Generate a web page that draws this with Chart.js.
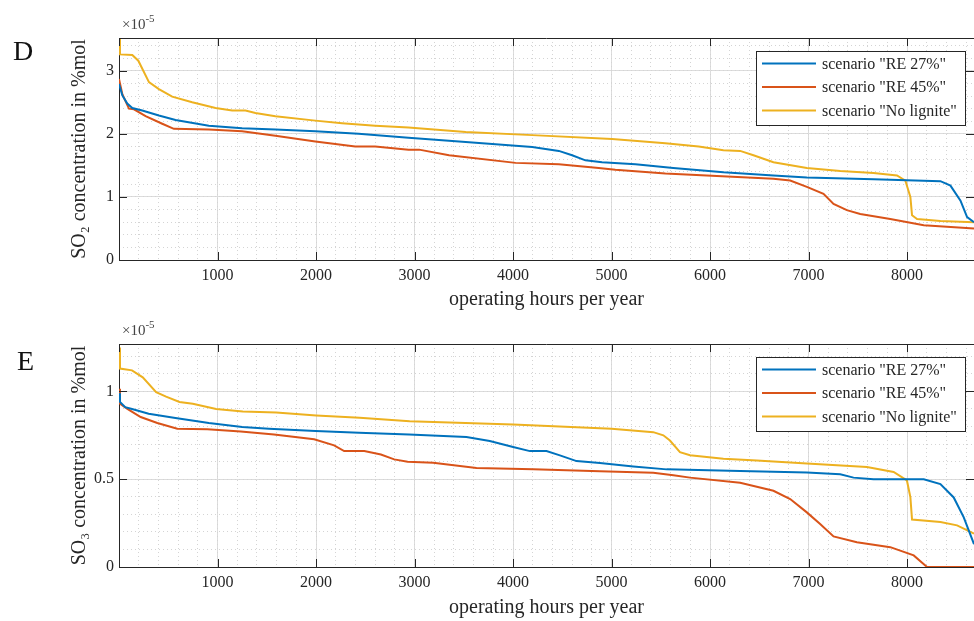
<!DOCTYPE html>
<html>
<head>
<meta charset="utf-8">
<script src="https://cdn.jsdelivr.net/npm/chart.js@4/dist/chart.umd.min.js"></script>
<style>
  html, body { margin: 0; padding: 0; background: #fff; overflow: hidden; }
  #wrap { position: relative; width: 974px; height: 621px; }
  canvas { position: absolute; left: 0; }
  #chartD { top: 0; }
  #chartE { top: 310px; }
</style>
</head>
<body>
<div id="wrap">
  <canvas id="chartD" width="974" height="310"></canvas>
  <canvas id="chartE" width="974" height="311"></canvas>
</div>
<script>
// Series labels
const seriesLabels = ['scenario "RE 27%"', 'scenario "RE 45%"', 'scenario "No lignite"'];
const seriesColors = ['#0072BD', '#D95319', '#EDB120'];

// x axis ticks (hours)
const hourTicks = [0, 1000, 2000, 3000, 4000, 5000, 6000, 7000, 8000];
const hoursMax = 8680;
const xTitle = 'operating hours per year';

// Panel D - SO2 (values in units of 1e-5 %mol)
const so2Re27Hours = [0, 34, 84, 135, 236, 405, 574, 912, 1250, 1588, 1993, 2432, 2939, 3520, 4195, 4465, 4600, 4735, 4904, 5243, 5627, 6136, 6644, 6983, 7660, 8339, 8441, 8543, 8610, 8680];
const so2Re27Values = [2.79, 2.61, 2.48, 2.41, 2.37, 2.29, 2.22, 2.13, 2.09, 2.07, 2.04, 2.00, 1.94, 1.87, 1.79, 1.73, 1.66, 1.58, 1.55, 1.52, 1.46, 1.39, 1.34, 1.31, 1.28, 1.25, 1.18, 0.94, 0.68, 0.60];

const so2Re45Hours = [0, 34, 101, 152, 270, 439, 557, 912, 1250, 1588, 1993, 2398, 2601, 2939, 3047, 3351, 4026, 4465, 4870, 5039, 5547, 5966, 6644, 6814, 6983, 7152, 7254, 7389, 7525, 7830, 8170, 8680];
const so2Re45Values = [2.87, 2.63, 2.40, 2.39, 2.28, 2.16, 2.08, 2.07, 2.04, 1.97, 1.88, 1.80, 1.80, 1.75, 1.75, 1.66, 1.54, 1.52, 1.46, 1.43, 1.37, 1.34, 1.29, 1.26, 1.16, 1.05, 0.89, 0.79, 0.73, 0.65, 0.55, 0.50];

const so2NoLigHours = [0, 10, 135, 196, 304, 405, 540, 743, 980, 1149, 1284, 1385, 1588, 1993, 2264, 2601, 2939, 3520, 4195, 5006, 5547, 5885, 6136, 6306, 6441, 6644, 6983, 7322, 7660, 7898, 7983, 8034, 8051, 8102, 8339, 8680];
const so2NoLigValues = [3.51, 3.26, 3.25, 3.16, 2.82, 2.71, 2.59, 2.50, 2.41, 2.37, 2.37, 2.33, 2.28, 2.21, 2.17, 2.13, 2.10, 2.03, 1.98, 1.92, 1.85, 1.80, 1.74, 1.73, 1.66, 1.55, 1.46, 1.41, 1.38, 1.34, 1.26, 1.00, 0.71, 0.65, 0.62, 0.60];

// Panel E - SO3 (values in units of 1e-5 %mol)
const so3Re27Hours = [0, 10, 63, 132, 301, 573, 912, 1251, 1522, 1996, 2437, 2945, 3527, 3764, 4001, 4171, 4340, 4476, 4645, 4882, 5221, 5560, 6306, 6983, 7322, 7457, 7660, 8170, 8339, 8474, 8576, 8680];
const so3Re27Values = [0.99, 0.94, 0.91, 0.90, 0.873, 0.848, 0.82, 0.797, 0.788, 0.774, 0.765, 0.754, 0.74, 0.717, 0.683, 0.66, 0.66, 0.636, 0.603, 0.592, 0.573, 0.556, 0.547, 0.538, 0.528, 0.509, 0.50, 0.50, 0.472, 0.396, 0.283, 0.13];

const so3Re45Hours = [0, 10, 85, 220, 389, 592, 897, 1236, 1574, 1981, 2184, 2286, 2490, 2659, 2794, 2930, 3189, 3629, 4205, 4882, 5424, 5628, 5797, 6306, 6644, 6814, 6983, 7118, 7254, 7491, 7830, 8068, 8203, 8680];
const so3Re45Values = [1.015, 0.93, 0.90, 0.854, 0.82, 0.788, 0.784, 0.772, 0.755, 0.727, 0.693, 0.66, 0.66, 0.641, 0.613, 0.60, 0.594, 0.564, 0.556, 0.546, 0.537, 0.522, 0.509, 0.48, 0.434, 0.387, 0.311, 0.245, 0.174, 0.141, 0.113, 0.066, 0, 0];

const so3NoLigHours = [0, 10, 132, 241, 377, 478, 614, 749, 986, 1257, 1596, 2002, 2443, 2951, 4001, 5001, 5424, 5526, 5593, 5695, 5797, 6136, 6475, 6983, 7593, 7864, 7999, 8034, 8051, 8339, 8508, 8680];
const so3NoLigValues = [1.25, 1.13, 1.12, 1.08, 0.996, 0.97, 0.94, 0.93, 0.90, 0.886, 0.88, 0.863, 0.85, 0.83, 0.812, 0.788, 0.768, 0.75, 0.72, 0.654, 0.636, 0.617, 0.607, 0.589, 0.57, 0.541, 0.493, 0.398, 0.27, 0.256, 0.237, 0.19];

const SERIF = '"Liberation Serif", "DejaVu Serif", serif';
const TEXT_COLOR = '#262626';

function toPoints(hours, values) {
    return hours.map((h, i) => ({ x: h, y: values[i] }));
}

// draws box, inward ticks, legend, exponent and panel letter
const decorPlugin = {
    id: 'decor',
    afterDraw(chart, args, opts) {
        const ctx = chart.ctx;
        const area = chart.chartArea;
        const xs = chart.scales.x;
        const ys = chart.scales.y;
        const tickLen = 8;
        ctx.save();

        // top border line
        ctx.strokeStyle = TEXT_COLOR;
        ctx.lineWidth = 1;
        ctx.beginPath();
        ctx.moveTo(area.left, area.top + 0.5);
        ctx.lineTo(area.right, area.top + 0.5);
        ctx.stroke();

        // inward ticks
        ctx.beginPath();
        xs.ticks.forEach(t => {
            const px = Math.round(xs.getPixelForValue(t.value)) + 0.5;
            ctx.moveTo(px, area.bottom);
            ctx.lineTo(px, area.bottom - tickLen);
            ctx.moveTo(px, area.top);
            ctx.lineTo(px, area.top + tickLen);
        });
        ys.ticks.forEach(t => {
            const py = Math.round(ys.getPixelForValue(t.value)) + 0.5;
            ctx.moveTo(area.left, py);
            ctx.lineTo(area.left + tickLen, py);
            ctx.moveTo(area.right, py);
            ctx.lineTo(area.right - tickLen, py);
        });
        ctx.stroke();

        // legend box
        const boxW = 209, boxH = 74;
        const boxL = area.right - 9 - boxW;
        const boxT = area.top + 13;
        ctx.fillStyle = '#ffffff';
        ctx.fillRect(boxL, boxT, boxW, boxH);
        ctx.strokeStyle = TEXT_COLOR;
        ctx.strokeRect(boxL + 0.5, boxT + 0.5, boxW, boxH);
        ctx.font = '16px ' + SERIF;
        ctx.textBaseline = 'middle';
        ctx.textAlign = 'left';
        chart.data.datasets.forEach((ds, i) => {
            const cy = boxT + 12.5 + i * 23.5;
            ctx.strokeStyle = ds.borderColor;
            ctx.lineWidth = 2;
            ctx.beginPath();
            ctx.moveTo(boxL + 6, cy);
            ctx.lineTo(boxL + 60, cy);
            ctx.stroke();
            ctx.fillStyle = TEXT_COLOR;
            ctx.fillText(ds.label, boxL + 66, cy + 1);
        });

        // exponent
        ctx.fillStyle = '#444';
        ctx.textBaseline = 'alphabetic';
        ctx.font = '15px ' + SERIF;
        ctx.fillText('\u00d710', area.left + 3, area.top - 9);
        const w = ctx.measureText('\u00d710').width;
        ctx.font = '11px ' + SERIF;
        ctx.fillText('-5', area.left + 3 + w, area.top - 16);

        // panel letter
        ctx.fillStyle = '#111';
        ctx.font = '28px ' + SERIF;
        ctx.fillText(opts.letter, opts.letterX, 60);

        ctx.restore();
    }
};

function makePanel(canvasId, cfg) {
    const datasets = cfg.series.map((s, i) => ({
        label: seriesLabels[i],
        data: toPoints(s[0], s[1]),
        borderColor: seriesColors[i],
        backgroundColor: seriesColors[i],
        borderWidth: 2,
        pointRadius: 0,
        tension: 0,
        fill: false
    }));

    return new Chart(document.getElementById(canvasId), {
        type: 'line',
        data: { datasets: datasets },
        plugins: [decorPlugin],
        options: {
            responsive: false,
            animation: false,
            devicePixelRatio: 1,
            layout: { padding: { top: cfg.padTop, left: 0, right: 0, bottom: 0 } },
            plugins: {
                legend: { display: false },
                tooltip: { enabled: false },
                decor: { letter: cfg.letter, letterX: cfg.letterX }
            },
            scales: {
                x: {
                    type: 'linear',
                    position: 'bottom',
                    min: 0,
                    max: hoursMax,
                    afterBuildTicks: s => { s.ticks = hourTicks.map(v => ({ value: v })); },
                    ticks: {
                        maxRotation: 0,
                        autoSkip: false,
                        padding: 6,
                        color: TEXT_COLOR,
                        font: { family: SERIF, size: 16 },
                        callback: v => (v === 0 ? '' : String(v))
                    },
                    grid: { color: '#dcdcdc', drawTicks: false },
                    border: { color: TEXT_COLOR, width: 1 },
                    title: {
                        display: true,
                        text: xTitle,
                        color: TEXT_COLOR,
                        font: { family: SERIF, size: 20, lineHeight: 1 },
                        padding: { top: 0, bottom: cfg.xTitlePad }
                    },
                    afterFit: s => { s.height = cfg.axisH; }
                },
                xMinor: {
                    type: 'linear',
                    position: 'bottom',
                    min: 0,
                    max: hoursMax,
                    ticks: { stepSize: 200, includeBounds: false, display: false },
                    grid: { color: '#d4d4d4', drawTicks: false, borderDash: [1, 3] },
                    border: { display: false, dash: [1, 3] },
                    afterFit: s => { s.height = 0; }
                },
                y: {
                    type: 'linear',
                    position: 'left',
                    min: 0,
                    max: cfg.yMax,
                    ticks: {
                        stepSize: cfg.yStep,
                        includeBounds: false,
                        padding: 5,
                        color: TEXT_COLOR,
                        font: { family: SERIF, size: 16 },
                        callback: v => String(Number(v.toFixed(2)))
                    },
                    grid: { color: '#dcdcdc', drawTicks: false },
                    border: { color: TEXT_COLOR, width: 1 },
                    title: {
                        display: true,
                        text: cfg.yTitle,
                        color: TEXT_COLOR,
                        font: { family: SERIF, size: 20, lineHeight: 1 },
                        padding: { top: 70, bottom: 0 }
                    },
                    afterFit: s => { s.width = 119; }
                },
                yMinor: {
                    type: 'linear',
                    position: 'left',
                    min: 0,
                    max: cfg.yMax,
                    ticks: { stepSize: cfg.yMinorStep, includeBounds: false, display: false },
                    grid: { color: '#d4d4d4', drawTicks: false, borderDash: [1, 3] },
                    border: { display: false, dash: [1, 3] },
                    afterFit: s => { s.width = 0; }
                }
            }
        }
    });
}

makePanel('chartD', {
    series: [[so2Re27Hours, so2Re27Values], [so2Re45Hours, so2Re45Values], [so2NoLigHours, so2NoLigValues]],
    yMax: 3.52, yStep: 1, yMinorStep: 0.2,
    yTitle: 'SO\u2082 concentration in %mol',
    padTop: 38, axisH: 50, xTitlePad: 0,
    letter: 'D', letterX: 13
});

makePanel('chartE', {
    series: [[so3Re27Hours, so3Re27Values], [so3Re45Hours, so3Re45Values], [so3NoLigHours, so3NoLigValues]],
    yMax: 1.27, yStep: 0.5, yMinorStep: 0.1,
    yTitle: 'SO\u2083 concentration in %mol',
    padTop: 34, axisH: 54, xTitlePad: 3,
    letter: 'E', letterX: 17
});
</script>
</body>
</html>
